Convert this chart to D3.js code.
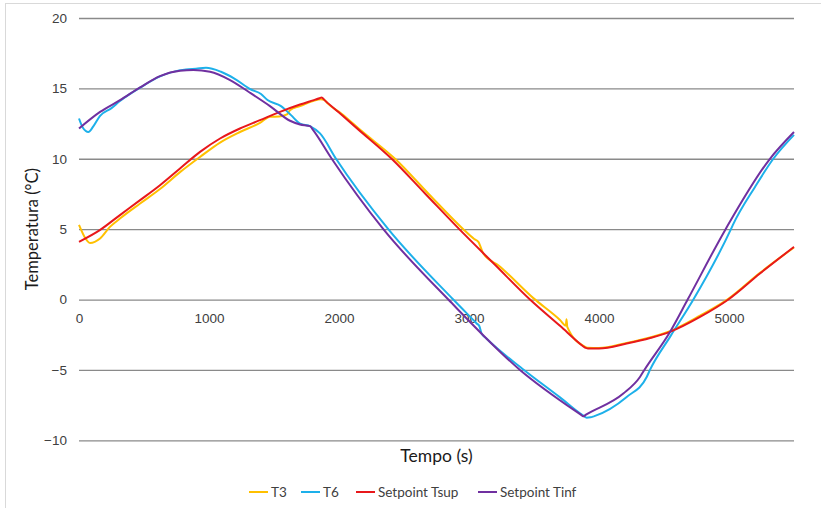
<!DOCTYPE html>
<html>
<head>
<meta charset="utf-8">
<script src="https://cdn.jsdelivr.net/npm/d3@7"></script>
<style>
  html, body { margin: 0; padding: 0; background: #fff; }
  svg { display: block; font-family: Lato, "Open Sans", sans-serif; }
</style>
</head>
<body>
<svg id="chart" width="821" height="508"></svg>
<script>
// Time axis ticks (s) and temperature ticks (°C)
const xTicks = [0, 1000, 2000, 3000, 4000, 5000];
const yTicks = [-10, -5, 0, 5, 10, 15, 20];

// Series: [time (s), temperature (°C)]
const seriesT3 = [
  [0, 5.3], [40, 4.5], [85, 4.02], [162, 4.34], [238, 5.16], [315, 5.75], [470, 6.82],
  [623, 7.85], [777, 9.05], [931, 10.13], [1085, 11.15], [1238, 11.9], [1392, 12.55],
  [1469, 12.98], [1540, 13.0], [1600, 13.15], [1623, 13.45], [1700, 13.74], [1800, 14.1],
  [1860, 14.22], [1885, 14.2], [1910, 13.95], [2020, 13.2], [2170, 12.0], [2431, 10.0],
  [2690, 7.5], [2950, 5.05], [3040, 4.3], [3072, 4.1], [3110, 3.27], [3230, 2.4],
  [3495, 0.1], [3700, -1.45], [3745, -1.85], [3750, -1.4], [3756, -1.95], [3880, -3.3],
  [3910, -3.42], [4000, -3.45], [4213, -3.08], [4400, -2.68], [4546, -2.25],
  [4777, -1.15], [4995, 0.05], [5238, 1.9], [5500, 3.7]
];
const seriesT6 = [
  [0, 12.86], [30, 12.2], [72, 11.9], [110, 12.3], [162, 13.05], [250, 13.6], [315, 14.1],
  [470, 15.05], [623, 15.85], [823, 16.35], [900, 16.4], [977, 16.46], [1092, 16.18],
  [1195, 15.7], [1323, 14.92], [1400, 14.6], [1450, 14.17], [1554, 13.74], [1631, 13.1],
  [1700, 12.5], [1780, 12.3], [1854, 11.8], [1977, 10.0], [2379, 5.0], [2879, 0.0],
  [3059, -1.7], [3080, -1.9], [3097, -2.42], [3134, -2.77], [3423, -5.0], [3700, -6.95],
  [3880, -8.25], [3905, -8.39], [3935, -8.37], [3960, -8.3], [4213, -6.92], [4367, -5.5],
  [4392, -5.0], [4550, -2.6], [4726, 0.0], [5015, 5.0], [5030, 5.3], [5200, 8.0],
  [5341, 10.0], [5500, 11.7]
];
const seriesTsup = [
  [0, 4.1], [160, 4.93], [315, 6.0], [470, 7.06], [623, 8.12], [777, 9.31], [931, 10.49],
  [1085, 11.44], [1238, 12.15], [1392, 12.74], [1546, 13.33], [1700, 13.85], [1800, 14.15],
  [1850, 14.3], [1867, 14.36], [1885, 14.2], [2000, 13.28], [2150, 12.07], [2405, 10.0],
  [2660, 7.55], [2925, 5.0], [3200, 2.47], [3469, 0.0], [3700, -1.87], [3875, -3.3],
  [3892, -3.42], [3915, -3.47], [4000, -3.48], [4213, -3.13], [4400, -2.72],
  [4546, -2.3], [4777, -1.24], [4995, 0.0], [5238, 1.85], [5500, 3.74]
];
const seriesTinf = [
  [0, 12.15], [162, 13.33], [315, 14.16], [470, 15.07], [623, 15.87], [777, 16.25],
  [880, 16.3], [1008, 16.18], [1162, 15.59], [1315, 14.69], [1469, 13.74], [1623, 12.7],
  [1700, 12.44], [1777, 12.32], [1800, 12.05], [1944, 10.0], [2341, 5.0], [2841, 0.0],
  [3392, -5.0], [3860, -8.18], [3879, -8.3], [3900, -8.18], [4187, -6.68], [4315, -5.5],
  [4349, -5.0], [4546, -2.3], [4682, 0.0], [4974, 5.0], [5315, 10.0], [5500, 11.9]
];

const seriesNames = ["T3", "T6", "Setpoint Tsup", "Setpoint Tinf"];
const seriesColors = ["#FFC000", "#1DB0EA", "#E8181B", "#7030A0"];
const seriesData = [seriesT3, seriesT6, seriesTsup, seriesTinf];

const svg = d3.select("#chart");

// outer frame
svg.append("rect")
  .attr("x", 5.5).attr("y", 3.5)
  .attr("width", 900).attr("height", 600)
  .attr("fill", "#fff").attr("stroke", "#d9d9d9").attr("stroke-width", 1);

const x = d3.scaleLinear().domain([0, 5500]).range([79, 794]);
const y = d3.scaleLinear().domain([-10, 20]).range([440.3, 18]);

// horizontal gridlines with value labels
const yAxis = d3.axisLeft(y)
  .tickValues(yTicks)
  .tickSize(-(x.range()[1] - x.range()[0]))
  .tickPadding(12)
  .tickFormat(d3.format("d"));
const gy = svg.append("g")
  .attr("transform", `translate(${x.range()[0]},0)`)
  .call(yAxis);
gy.select(".domain").remove();
gy.selectAll(".tick line").attr("stroke", "#8a8a8a").attr("stroke-width", 1.3);
gy.selectAll(".tick text")
  .attr("fill", "#404040").style("font-size", "13.5px");

// time labels sit just under the zero line
const xAxis = d3.axisBottom(x)
  .tickValues(xTicks)
  .tickSize(0)
  .tickPadding(14)
  .tickFormat(d3.format("d"));
const gx = svg.append("g")
  .attr("transform", `translate(0,${y(0)})`)
  .call(xAxis);
gx.select(".domain").remove();
gx.selectAll(".tick text")
  .attr("fill", "#404040").style("font-size", "13.5px");

// series lines
const line = d3.line()
  .x(d => x(d[0]))
  .y(d => y(d[1]))
  .curve(d3.curveMonotoneX);

seriesData.forEach((data, i) => {
  svg.append("path")
    .datum(data)
    .attr("fill", "none")
    .attr("stroke", seriesColors[i])
    .attr("stroke-width", 2)
    .attr("stroke-linejoin", "round")
    .attr("d", line);
});

// axis titles
svg.append("text")
  .attr("transform", `translate(38,${(y.range()[0] + y.range()[1]) / 2}) rotate(-90)`)
  .attr("text-anchor", "middle")
  .attr("fill", "#1a1a1a")
  .style("font-size", "16.5px")
  .text("Temperatura (°C)");

svg.append("text")
  .attr("x", (x.range()[0] + x.range()[1]) / 2)
  .attr("y", 462)
  .attr("text-anchor", "middle")
  .attr("fill", "#1a1a1a")
  .style("font-size", "17.5px")
  .text("Tempo (s)");

// legend
const legendX = [249, 301, 356, 478];
const legend = svg.append("g");
seriesNames.forEach((name, i) => {
  const g = legend.append("g").attr("transform", `translate(${legendX[i]},492)`);
  g.append("line")
    .attr("x1", 0).attr("x2", 19)
    .attr("y1", 0).attr("y2", 0)
    .attr("stroke", seriesColors[i]).attr("stroke-width", 2);
  g.append("text")
    .attr("x", 22).attr("y", 0)
    .attr("dy", "0.35em")
    .attr("fill", "#404040")
    .style("font-size", "13.5px")
    .text(name);
});
</script>
</body>
</html>
